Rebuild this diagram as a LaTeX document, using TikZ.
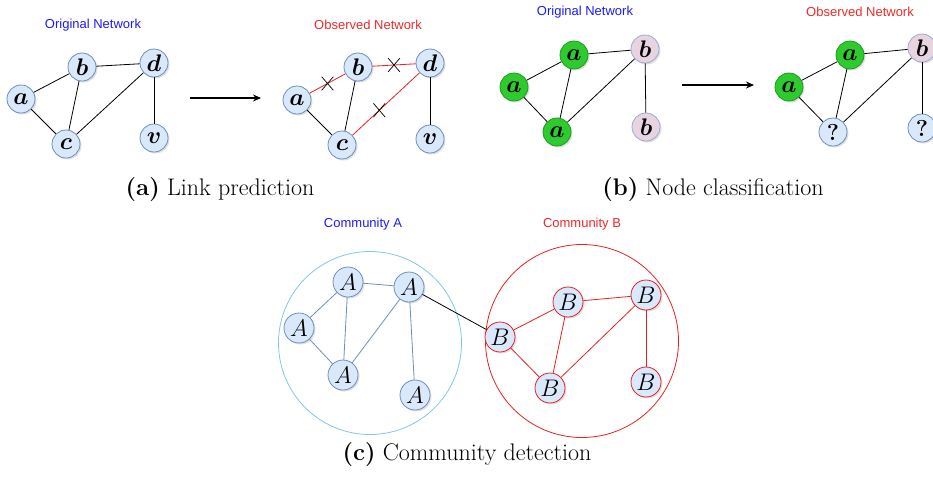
\RequirePackage{fix-cm}
\documentclass[tikz,border=0pt]{standalone}
\usepackage{fontspec}
\usepackage{bm}
\newfontfamily\titlefont{Liberation Sans}
\usetikzlibrary{shadows,shapes.misc,arrows.meta}

\definecolor{nodeblue}{HTML}{DAE8FC}
\definecolor{nodeline}{HTML}{6C8EBF}
\definecolor{nodegreen}{HTML}{2DCB2D}
\definecolor{greenline}{HTML}{1F9A1F}
\definecolor{nodepink}{HTML}{E8D4E0}
\definecolor{pinkline}{HTML}{9BAAD2}
\definecolor{ringblue}{HTML}{7EC8EA}
\definecolor{titleblue}{HTML}{1A1AFF}
\definecolor{titlered}{HTML}{F02828}
\definecolor{edgered}{HTML}{E62020}

\begin{document}
\begin{tikzpicture}[x=1pt,y=-1pt,
	vert/.style={circle,draw=nodeline,fill=nodeblue,line width=0.8pt,minimum size=28pt,inner sep=0pt,
		font=\fontsize{24}{24}\selectfont,drop shadow={opacity=0.25,shadow xshift=1.5pt,shadow yshift=-1.5pt}},
	gvert/.style={vert,draw=greenline,fill=nodegreen},
	pvert/.style={vert,draw=pinkline,fill=nodepink},
	bigvert/.style={vert,minimum size=30pt,font=\fontsize{24}{24}\selectfont},
	rvert/.style={bigvert,draw=edgered},
	edge/.style={line width=0.8pt},
	redge/.style={edge,edgered},
	aedge/.style={edge,nodeline},
	cut/.style={draw=black,cross out,minimum width=11pt,minimum height=13pt,inner sep=0pt,line width=0.7pt},
	title/.style={font=\titlefont\fontsize{13}{13}\selectfont},
	captext/.style={font=\fontsize{24}{26}\selectfont},
	step arrow/.style={-{Stealth[length=8pt,width=7pt]},line width=1.1pt}]

	\useasboundingbox (0,0) rectangle (933,477);

	%(a) link prediction
	\node[title,text=titleblue] (tOrigA) at (93,25) {Original Network};
	\node[title,text=titlered] (tObsA) at (368,25) {Observed Network};

	\node[vert] (a1) at (21,99) {$\bm{a}$};
	\node[vert] (b1) at (82,67) {$\bm{b}$};
	\node[vert] (c1) at (66,144) {$\bm{c}$};
	\node[vert] (d1) at (154,63) {$\bm{d}$};
	\node[vert] (v1) at (154,138) {$\bm{v}$};
	\draw[edge] (a1) -- (b1);
	\draw[edge] (a1) -- (c1);
	\draw[edge] (b1) -- (c1);
	\draw[edge] (b1) -- (d1);
	\draw[edge] (c1) -- (d1);
	\draw[edge] (d1) -- (v1);

	\coordinate (arA1) at (190,98);
	\coordinate (arA2) at (261,98);
	\draw[step arrow] (arA1) -- (arA2);

	\node[vert] (a2) at (297,100) {$\bm{a}$};
	\node[vert] (b2) at (358,67) {$\bm{b}$};
	\node[vert] (c2) at (342,145) {$\bm{c}$};
	\node[vert] (d2) at (430,63) {$\bm{d}$};
	\node[vert] (v2) at (430,139) {$\bm{v}$};
	\draw[redge] (a2) -- node[cut] {} (b2); %removed
	\draw[redge] (b2) -- node[cut] {} (d2); %removed
	\draw[redge] (c2) -- node[cut,pos=0.4] {} (d2); %removed
	\draw[edge] (a2) -- (c2);
	\draw[edge] (b2) -- (c2);
	\draw[edge] (d2) -- (v2);

	\node[captext] (capA) at (220,190) {\textbf{(a)} Link prediction};

	%(b) node classification
	\node[title,text=titleblue] (tOrigB) at (585,12) {Original Network};
	\node[title,text=titlered] (tObsB) at (860,12) {Observed Network};

	\node[gvert] (p1) at (514,87) {$\bm{a}$};
	\node[gvert] (p2) at (574,55) {$\bm{a}$};
	\node[gvert] (p3) at (557,132) {$\bm{a}$};
	\node[pvert] (p4) at (645,49) {$\bm{b}$};
	\node[pvert] (p5) at (646,127) {$\bm{b}$};
	\draw[edge] (p1) -- (p2);
	\draw[edge] (p1) -- (p3);
	\draw[edge] (p2) -- (p3);
	\draw[edge] (p2) -- (p4);
	\draw[edge] (p3) -- (p4);
	\draw[edge] (p4) -- (p5);

	\coordinate (arB1) at (682,85);
	\coordinate (arB2) at (754,85);
	\draw[step arrow] (arB1) -- (arB2);

	\node[gvert] (q1) at (789,87) {$\bm{a}$};
	\node[gvert] (q2) at (850,55) {$\bm{a}$};
	\node[vert] (q3) at (833,132) {\fontsize{23}{23}\selectfont\bfseries ?};
	\node[pvert] (q4) at (922,48) {$\bm{b}$};
	\node[vert] (q5) at (922,128) {\fontsize{23}{23}\selectfont\bfseries ?};
	\draw[edge] (q1) -- (q2);
	\draw[edge] (q1) -- (q3);
	\draw[edge] (q2) -- (q3);
	\draw[edge] (q2) -- (q4);
	\draw[edge] (q3) -- (q4);
	\draw[edge] (q4) -- (q5);

	\node[captext] (capB) at (713,190) {\textbf{(b)} Node classification};

	%(c) community detection
	\node[title,text=titleblue] (tComA) at (363,224) {Community A};
	\node[title,text=titlered] (tComB) at (582,224) {Community B};

	\node[circle,draw=ringblue,line width=0.8pt,minimum size=183pt] (ringA) at (370,343) {};
	\node[circle,draw=edgered,line width=0.8pt,minimum size=193pt] (ringB) at (582,341) {};

	\node[bigvert] (A1) at (348,282) {$A$};
	\node[bigvert] (A2) at (409,287) {$A$};
	\node[bigvert] (A3) at (299,328) {$A$};
	\node[bigvert] (A4) at (343,375) {$A$};
	\node[bigvert] (A5) at (415,395) {$A$};
	\draw[aedge] (A1) -- (A2);
	\draw[aedge] (A1) -- (A3);
	\draw[aedge] (A1) -- (A4);
	\draw[aedge] (A3) -- (A4);
	\draw[aedge] (A4) -- (A2);
	\draw[aedge] (A2) -- (A5);

	\node[rvert] (B1) at (500,337) {$B$};
	\node[rvert] (B2) at (568,302) {$B$};
	\node[rvert] (B3) at (646,295) {$B$};
	\node[rvert] (B4) at (550,388) {$B$};
	\node[rvert] (B5) at (646,382) {$B$};
	\draw[redge] (B1) -- (B2);
	\draw[redge] (B2) -- (B3);
	\draw[redge] (B1) -- (B4);
	\draw[redge] (B2) -- (B4);
	\draw[redge] (B4) -- (B3);
	\draw[redge] (B3) -- (B5);

	\draw[edge] (A2) -- (B1); %bridge

	\node[captext] (capC) at (467,455) {\textbf{(c)} Community detection};
\end{tikzpicture}
\end{document}
